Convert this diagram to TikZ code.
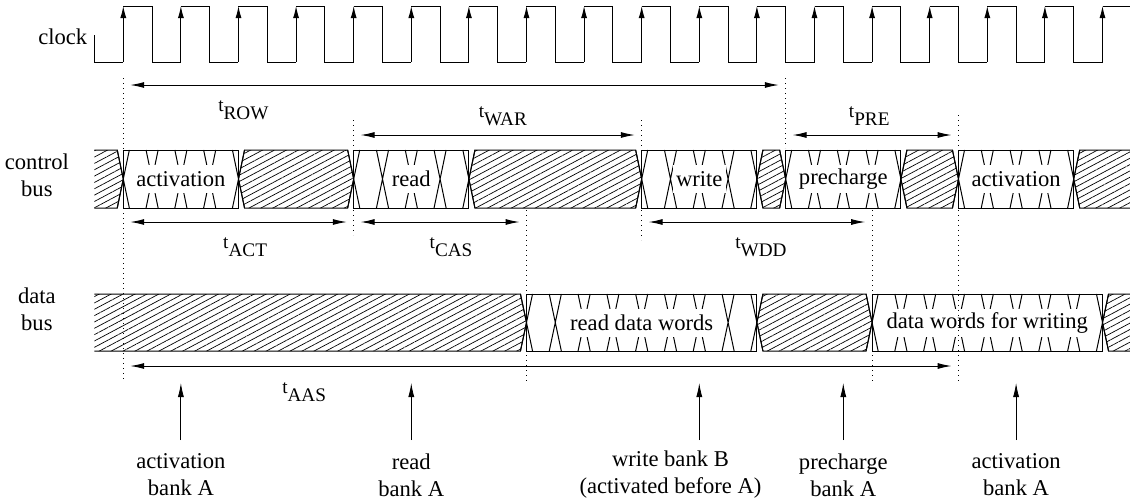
\documentclass[tikz,border=0pt]{standalone}
\usepackage{fontspec}
\setmainfont{Liberation Serif}
\usetikzlibrary{arrows.meta, patterns.meta}

\begin{document}
\begin{tikzpicture}[
  x=14.4pt, y=-0.5pt,
  wave/.style={line width=0.5pt},
  hatch/.style={pattern={Lines[angle=28,distance=2.8pt,line width=0.35pt]}},
  marker/.style={dotted, line width=0.5pt},
  dim/.style={{Latex[length=7pt,width=3pt]}-{Latex[length=7pt,width=3pt]}, line width=0.5pt},
  event/.style={-{Latex[length=7pt,width=3pt]}, line width=0.4pt},
  sig/.style={fill=white, inner xsep=1.5pt, inner ysep=0pt, minimum height=14pt, font=\fontsize{11.3}{13.5}\selectfont},
  lbl/.style={align=center, font=\fontsize{11.3}{13.5}\selectfont},
  tlabel/.style={inner sep=0pt, font=\fontsize{9.6}{11}\selectfont}
]
\useasboundingbox (-4.281,0) rectangle (34.955,499);
\def\w{0.21}

% signal names
\node[lbl] (clk) at (-2.1,37) {clock};
\node[lbl] (cbus) at (-3,175) {control\\bus};
\node[lbl] (dbus) at (-3,309) {data\\bus};

% clock
\draw[wave] (-1,35) -- (-1,62) -- (0,62);
\foreach \k in {0,2,...,32} {
  \draw[wave, -{Latex[length=6pt,width=3pt]}] (\k,62) -- (\k,6);
  \draw[wave] (\k,6) -- (\k+1,6) -- (\k+1,62) -- (\k+2,62);
}
\draw[wave, -{Latex[length=6pt,width=3pt]}] (34,62) -- (34,6);
\draw[wave] (34,6) -- (34.955,6);

% control bus
\fill[hatch] (-1,150) -- (-\w,150) -- (0,179) -- (-\w,208) -- (-1,208) -- cycle;
\draw[wave] (-1,150) -- (-\w,150) -- (0,179) -- (-\w,208) -- (-1,208);
\foreach \a/\b in {4/8, 12/18, 22/23, 27/29, 33/36}
  \draw[wave, hatch] (\a+\w,150) -- (\b-\w,150) -- (\b,179) -- (\b-\w,208) -- (\a+\w,208) -- (\a,179) -- cycle;
\foreach \a/\b/\txt in {0/4/activation, 8/12/read, 18/22/write, 23/27/precharge, 29/33/activation} {
  \draw[wave] (\a,150) rectangle (\b,208);
  \foreach \k in {\a,...,\b}
    \draw[wave] (\k-\w,150) -- (\k+\w,208) (\k-\w,208) -- (\k+\w,150);
  \node[sig] (cb-\a) at ({(\a+\b)/2},179) {\txt};
}

% data bus
\fill[hatch] (-1,294) -- (14-\w,294) -- (14,322.5) -- (14-\w,351) -- (-1,351) -- cycle;
\draw[wave] (-1,294) -- (14-\w,294) -- (14,322.5) -- (14-\w,351) -- (-1,351);
\foreach \a/\b in {22/26, 34/36}
  \draw[wave, hatch] (\a+\w,294) -- (\b-\w,294) -- (\b,322.5) -- (\b-\w,351) -- (\a+\w,351) -- (\a,322.5) -- cycle;
\foreach \a/\b/\txt in {14/22/read data words, 26/34/data words for writing} {
  \draw[wave] (\a,294) rectangle (\b,351);
  \foreach \k in {\a,...,\b}
    \draw[wave] (\k-\w,294) -- (\k+\w,351) (\k-\w,351) -- (\k+\w,294);
  \node[sig] (db-\a) at ({(\a+\b)/2},322.5) {\txt};
}

% time marks
\foreach \k/\ya/\yb in {0/78/382, 23/78/148, 8/120/235, 18/120/240, 14/210/382, 26/210/382, 29/115/382}
  \draw[marker] (\k,\ya) -- (\k,\yb);

% timing parameters
\foreach \a/\b/\y/\n/\lx/\ly in {0/23/85/ROW/4.17/110, 8/18/135/WAR/13.18/116, 23/29/135/PRE/25.9/116,
    0/8/222/ACT/4.23/247, 8/14/222/CAS/11.38/247, 18/26/222/WDD/22.14/247, 0/29/366/AAS/6.28/392} {
  \coordinate (\n-l) at (\a+0.24,\y);
  \coordinate (\n-r) at (\b-0.24,\y);
  \draw[dim] (\n-l) -- (\n-r);
  \node[tlabel] (t-\n) at (\lx,\ly) {t\raisebox{-4pt}{\n}};
}

% commands
\foreach \k/\lx/\txt in {2/2/activation\\bank A, 10/10/read\\bank A, 20/19/write bank B\\(activated before A),
    25/25/precharge\\bank A, 31/31/activation\\bank A} {
  \node[lbl] (ev-\k) at (\lx,475) {\txt};
  \draw[event] (\k,440) -- (\k,383);
}
\end{tikzpicture}
\end{document}
